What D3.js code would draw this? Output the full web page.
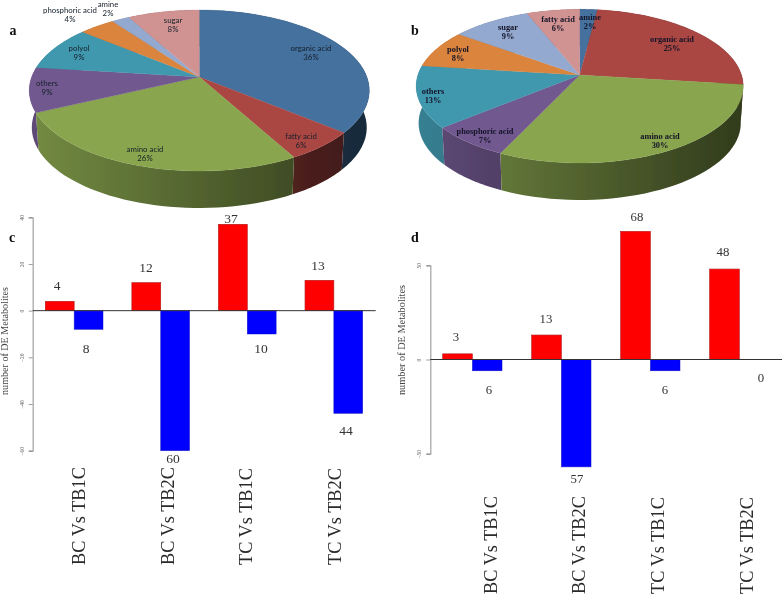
<!DOCTYPE html>
<html><head><meta charset="utf-8">
<style>html,body{margin:0;padding:0;background:#fff}svg{display:block}</style>
<script src="https://cdnjs.cloudflare.com/ajax/libs/d3/7.8.5/d3.min.js"></script>
</head><body><svg id="chart" width="784" height="595"></svg>
<script>
// ---------- data ----------
const pieANames = ["organic acid","fatty acid","amino acid","others","polyol","phosphoric acid","amine","sugar"];
const pieAValues = [36,6,26,9,9,4,2,8];
const pieBNames = ["amine","organic acid","amino acid","phosphoric acid","others","polyol","sugar","fatty acid"];
const pieBValues = [2,25,30,7,13,8,9,6];
const comparisons = ["BC Vs TB1C","BC Vs TB2C","TC Vs TB1C","TC Vs TB2C"];
const barCUp = [4,12,37,13];
const barCDown = [8,60,10,44];
const barDUp = [3,13,68,48];
const barDDown = [6,57,6,0];
const barCTicks = [-60,-40,-20,0,20,40];
const barDTicks = [-50,0,50];
const yTitle = "number of DE Metabolites";

// ---------- styling and layout ----------
const palette = ["#44719f","#aa4643","#89a54e","#71588f","#4198af","#db843d","#93a9cf","#d19392"];
const svg = d3.select("#chart");
const defs = svg.append("defs");
const soft = defs.append("filter").attr("id","soft").attr("x","-2%").attr("y","-2%").attr("width","104%").attr("height","104%");
soft.append("feGaussianBlur").attr("stdDeviation",0.35);
const root = svg.append("g").attr("filter","url(#soft)");

const serif = "'Liberation Serif','DejaVu Serif',serif";
const sans = "Lato,'Open Sans','Noto Sans',sans-serif";

function drawPie(o){
  const g = root.append("g");
  const k = o.k, a = o.a, b = o.b;
  const project = ang => {
    const u = Math.sin(ang), v = -Math.cos(ang), f = 1 + k*v;
    return [o.cx + a*u/f, o.cy + b*v/f, v];
  };
  const arcs = d3.pie().sort(null).value(d=>d)(o.values);
  const line = d3.line();
  const rim = d => d3.range(0,41).map(i=>project(d.startAngle+(d.endAngle-d.startAngle)*i/40));
  const down = p => [o.cx+(p[0]-o.cx)*0.985, p[1]+o.depth];
  // walls
  arcs.map((d,i)=>({d,i})).sort((m,n)=>Math.sin((m.d.startAngle+m.d.endAngle)/2-Math.PI/2)-Math.sin((n.d.startAngle+n.d.endAngle)/2-Math.PI/2)).forEach(({d,i})=>{
    const id = o.id+"w"+i;
    const c = d3.rgb(palette[i]);
    const shade = t => d3.rgb(c.r*t,c.g*t,c.b*t).formatRgb();
    const gr = defs.append("linearGradient").attr("id",id).attr("gradientUnits","userSpaceOnUse")
      .attr("x1",o.cx-a).attr("x2",o.cx+a).attr("y1",0).attr("y2",0);
    gr.append("stop").attr("offset",0).attr("stop-color",shade(0.84));
    gr.append("stop").attr("offset",1).attr("stop-color",shade(0.36));
    const r = rim(d);
    const pts = r.map(p=>[p[0],p[1]]).concat(r.slice().reverse().map(down));
    g.append("path").attr("d",line(pts)+"Z").attr("fill",`url(#${id})`);
  });
  // tops
  arcs.forEach((d,i)=>{
    const pts = [[o.cx,o.cy]].concat(rim(d).map(p=>[p[0],p[1]]));
    g.append("path").attr("d",line(pts)+"Z").attr("fill",palette[i]).attr("stroke",palette[i]).attr("stroke-width",0.3);
  });
  // labels
  o.names.forEach((n,i)=>{
    const t = g.append("text").attr("text-anchor","middle").attr("font-family",o.font)
      .attr("font-size",o.fontSize).attr("font-weight",o.weight).attr("fill",o.textFill);
    const [x,y] = o.labelAt[i];
    t.append("tspan").attr("x",x).attr("y",y).text(n);
    t.append("tspan").attr("x",x).attr("y",y+o.lineGap).text(o.values[i]+"%");
  });
}

drawPie({id:"a",cx:199.3,cy:77,a:167.6,b:78.2,k:-0.168,depth:37,names:pieANames,values:pieAValues,
  font:sans,fontSize:7.8,weight:400,textFill:"#16202a",lineGap:9.4,
  labelAt:[[311,51],[301,138.5],[145,151.5],[47,85.5],[79,50.5],[70,13],[108,6.5],[173,22.5]]});
drawPie({id:"b",cx:579.7,cy:75,a:161.8,b:75.2,k:-0.145,depth:37,names:pieBNames,values:pieBValues,
  font:serif,fontSize:8.4,weight:700,textFill:"#141428",lineGap:9.2,
  labelAt:[[590,19.5],[672,41.5],[660,139],[485,134],[433,94],[458,52],[508,30],[558,21.5]]});

function drawBars(o){
  const g = root.append("g");
  const y = d3.scaleLinear().domain(o.domain).range(o.yRange);
  const x0 = d3.scaleBand().domain(comparisons).range(o.xRange).paddingInner(1/3).paddingOuter(0);
  const x1 = d3.scaleBand().domain(["up","down"]).range([0,x0.bandwidth()]);
  // y axis
  const axis = g.append("g").attr("transform",`translate(${o.axisX},0)`)
    .call(d3.axisLeft(y).tickValues(o.ticks).tickSize(4).tickFormat(d3.format("d")));
  axis.select(".domain").attr("stroke","#a8a8a8").attr("stroke-width",1.3);
  axis.selectAll(".tick line").attr("stroke","#777").attr("stroke-width",0.7);
  axis.selectAll(".tick text").attr("font-family",serif).attr("font-size",5.5).attr("fill","#666")
    .attr("x",0).attr("dy",0).attr("text-anchor","middle")
    .attr("transform",`translate(${-o.tickLabelGap},0) rotate(-90)`);
  // bars
  comparisons.forEach((c,i)=>{
    g.append("rect").attr("x",x0(c)+x1("up")).attr("width",x1.bandwidth())
      .attr("y",y(o.up[i])).attr("height",y(0)-y(o.up[i]))
      .attr("fill","#ff0000").attr("stroke","#b01818").attr("stroke-width",0.6);
    if(o.down[i]>0) g.append("rect").attr("x",x0(c)+x1("down")).attr("width",x1.bandwidth())
      .attr("y",y(0)).attr("height",y(-o.down[i])-y(0))
      .attr("fill","#0000ff").attr("stroke","#1a1ac0").attr("stroke-width",0.5);
  });
  // baseline
  g.append("line").attr("x1",o.axisX).attr("x2",o.baseEnd).attr("y1",y(0)).attr("y2",y(0))
    .attr("stroke","#333").attr("stroke-width",1);
  // value labels
  const vals = o.up.flatMap((u,i)=>[u,o.down[i]]);
  vals.forEach((v,i)=>{
    g.append("text").attr("x",o.valueAt[i][0]).attr("y",o.valueAt[i][1]).attr("dy","0.35em")
      .attr("text-anchor","middle").attr("font-family",serif).attr("font-size",o.valueSize)
      .attr("fill","#333").text(v);
  });
  // categories
  comparisons.forEach((c,i)=>{
    g.append("text").attr("transform",`translate(${o.catX[i]},${o.catY}) rotate(-90)`)
      .attr("font-family",serif).attr("font-size",o.catSize).attr("fill","#2a2a2a").text(c);
  });
  // y title
  g.append("text").attr("transform",`translate(${o.titleX},${o.titleY}) rotate(-90)`)
    .attr("text-anchor","middle").attr("font-family",serif).attr("font-size",o.titleSize).attr("fill","#444").text(yTitle);
}

drawBars({domain:[-60,40],yRange:[450.7,217.3],xRange:[45.3,362.7],axisX:32.7,baseEnd:375.7,up:barCUp,down:barCDown,ticks:barCTicks,
  tickLabelGap:9,valueSize:13.5,catSize:18.3,catY:565,catX:[85,174,252,341],titleX:8,titleY:341,titleSize:10.1,
  valueAt:[[57,285],[86,348],[146,267],[173,458],[231,218],[261,348],[318,265],[346,430]]});
drawBars({domain:[-50,50],yRange:[453.7,265.3],xRange:[442.7,769],axisX:430.3,baseEnd:782,up:barDUp,down:barDDown,ticks:barDTicks,
  tickLabelGap:9,valueSize:12.8,catSize:18.3,catY:594,catX:[497,585,664,753],titleX:405,titleY:340,titleSize:10.3,
  valueAt:[[456,337],[489,390],[546,319],[577,479],[637,217],[665,390],[723,252],[761,378]]});

// panel letters
[["a",13,35],["b",415,35],["c",12,242],["d",415,242]].forEach(([t,x,y])=>{
  root.append("text").attr("x",x).attr("y",y).attr("text-anchor","middle").attr("font-family",serif)
    .attr("font-weight",700).attr("font-size",14).attr("fill","#111").text(t);
});
</script></body></html>
